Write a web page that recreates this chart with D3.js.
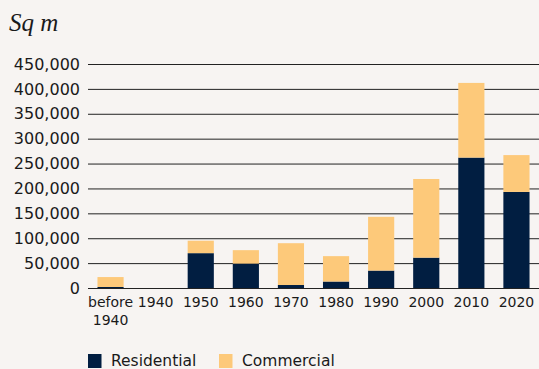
<!DOCTYPE html>
<html>
<head>
<meta charset="utf-8">
<script src="https://cdn.jsdelivr.net/npm/d3@7"></script>
<style>
  html, body { margin: 0; padding: 0; background: #f7f4f2; }
  svg { display: block; }
</style>
</head>
<body>
<div id="chart"></div>
<script>
// decades of construction
const categories = ["before 1940", "1940", "1950", "1960", "1970", "1980", "1990", "2000", "2010", "2020"];
const residential = [2000, 0, 70000, 49000, 6000, 13000, 35000, 61000, 262000, 193000];
const commercial = [20000, 0, 25000, 27000, 84000, 51000, 108000, 158000, 150000, 74000];
const yTicks = [0, 50000, 100000, 150000, 200000, 250000, 300000, 350000, 400000, 450000];
const seriesNames = ["Residential", "Commercial"];
const seriesColors = ["#011e41", "#fdc97a"];

const width = 539, height = 369;
const margin = {top: 64, right: 1, bottom: 81, left: 88};

const svg = d3.select("#chart").append("svg")
    .attr("width", width)
    .attr("height", height);

svg.append("rect")
    .attr("width", width)
    .attr("height", height)
    .attr("fill", "#f7f4f2");

// title
svg.append("text")
    .attr("x", 9)
    .attr("y", 31)
    .attr("font-family", "Liberation Serif, serif")
    .attr("font-style", "italic")
    .attr("font-size", 25)
    .attr("fill", "#1a1a1a")
    .text("Sq m");

let x = d3.scaleBand()
    .domain(categories)
    .range([margin.left, width - margin.right + 1])
    .paddingInner(0.42)
    .paddingOuter(0.21);

let y = d3.scaleLinear()
    .domain([0, 450000])
    .range([height - margin.bottom, margin.top]);

// gridlines + y labels
let yAxis = svg.append("g")
    .attr("transform", `translate(${margin.left}, 0)`)
    .call(d3.axisLeft(y)
        .tickValues(yTicks)
        .tickFormat(d3.format(","))
        .tickSize(-(width - margin.left))
        .tickPadding(8));
yAxis.select(".domain").remove();
yAxis.selectAll(".tick line")
    .attr("stroke", "#222")
    .attr("stroke-width", 1);
yAxis.selectAll(".tick text")
    .attr("font-family", "DejaVu Sans, sans-serif")
    .attr("font-size", 16)
    .attr("fill", "#1a1a1a");

// stacked bars
let table = categories.map((c, i) => ({cat: c, Residential: residential[i], Commercial: commercial[i]}));
let stacked = d3.stack().keys(seriesNames)(table);

svg.append("g")
    .selectAll("g")
    .data(stacked)
    .join("g")
    .attr("fill", (d, i) => seriesColors[i])
    .selectAll("rect")
    .data(d => d)
    .join("rect")
    .attr("x", d => x(d.data.cat))
    .attr("width", x.bandwidth())
    .attr("y", d => y(d[1]))
    .attr("height", d => y(d[0]) - y(d[1]));

// x labels
let xLabels = svg.append("g")
    .selectAll("text")
    .data(categories)
    .join("text")
    .attr("x", d => x(d) + x.bandwidth() / 2)
    .attr("y", 307)
    .attr("text-anchor", "middle")
    .attr("font-family", "DejaVu Sans, sans-serif")
    .attr("font-size", 14)
    .attr("fill", "#1a1a1a");

xLabels.each(function(d) {
    let words = d.split(" ");
    let t = d3.select(this);
    words.forEach((w, i) => {
        t.append("tspan")
            .attr("x", x(d) + x.bandwidth() / 2)
            .attr("dy", i === 0 ? 0 : 18)
            .text(w);
    });
});

// legend
let legend = svg.append("g")
    .selectAll("g")
    .data(seriesNames)
    .join("g")
    .attr("transform", (d, i) => `translate(${[88, 219][i]}, 354)`);

legend.append("rect")
    .attr("width", 13.5)
    .attr("height", 14)
    .attr("fill", (d, i) => seriesColors[i]);

legend.append("text")
    .attr("x", 23)
    .attr("y", 12)
    .attr("font-family", "DejaVu Sans, sans-serif")
    .attr("font-size", 15.5)
    .attr("fill", "#1a1a1a")
    .text(d => d);
</script>
</body>
</html>
